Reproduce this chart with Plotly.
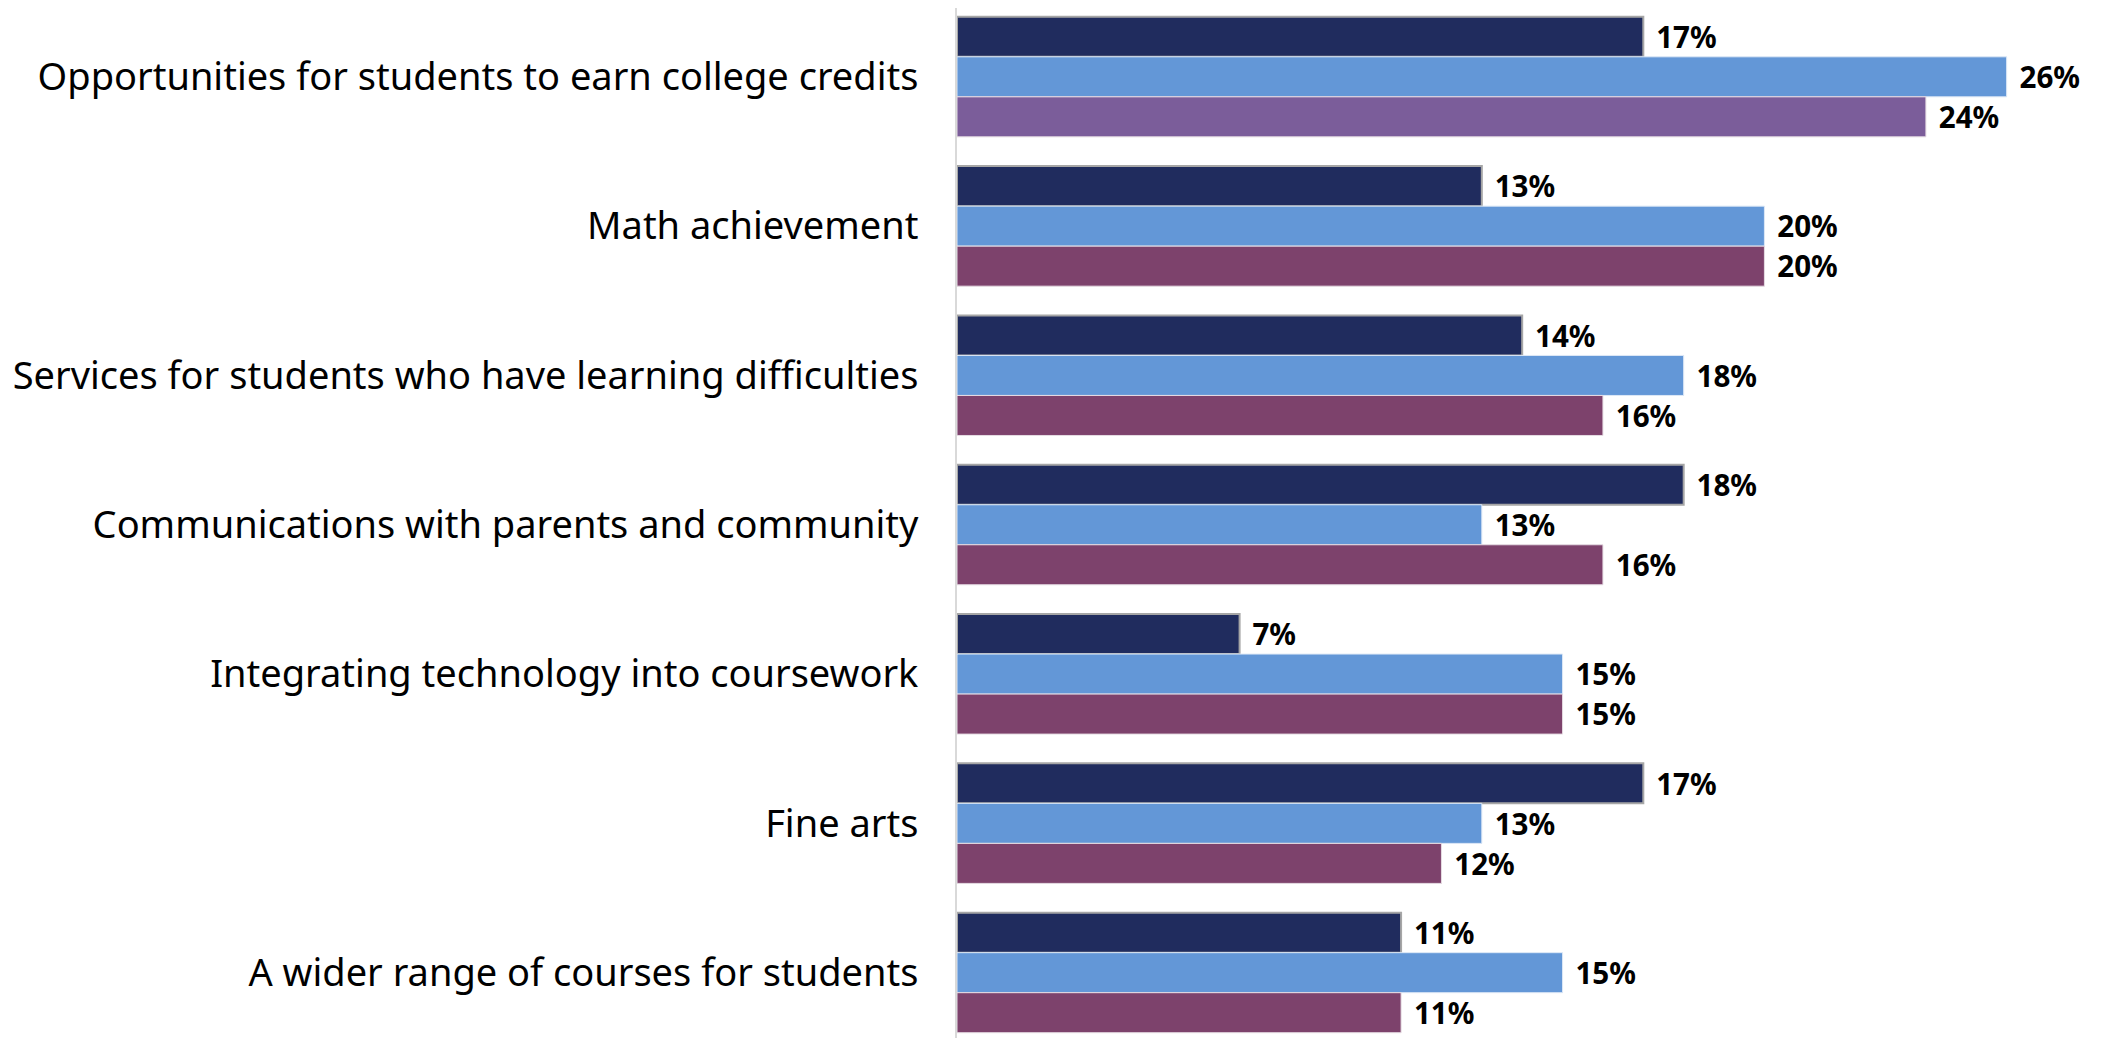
import plotly.graph_objects as go

categories = [
    "Opportunities for students to earn college credits",
    "Math achievement",
    "Services for students who have learning difficulties",
    "Communications with parents and community",
    "Integrating technology into coursework",
    "Fine arts",
    "A wider range of courses for students",
]
series_a = [17, 13, 14, 18, 7, 17, 11]
series_b = [26, 20, 18, 13, 15, 13, 15]
series_c = [24, 20, 16, 16, 15, 12, 11]

navy = "#202C5E"
blue = "#6397D7"
purple_first = "#7B5D9A"
purple = "#7D426C"

FONT = "'Noto Sans', 'Open Sans', sans-serif"
label_font = dict(family=FONT, size=34, color="black", weight="bold")
tmpl = "\u2009\u2009<b>%{x}%</b>"

fig = go.Figure()
fig.add_trace(go.Bar(
    y=categories, x=series_a, orientation="h", name="A",
    marker=dict(color=navy, line=dict(color="#A6A6A6", width=2)),
    texttemplate=tmpl, textposition="outside", textfont=label_font,
    cliponaxis=False,
))
fig.add_trace(go.Bar(
    y=categories, x=series_b, orientation="h", name="B",
    marker=dict(color=blue, line=dict(color="#DDE8F6", width=1)),
    texttemplate=tmpl, textposition="outside", textfont=label_font,
    cliponaxis=False,
))
fig.add_trace(go.Bar(
    y=categories, x=series_c, orientation="h", name="C",
    marker=dict(color=[purple_first] + [purple] * (len(categories) - 1),
                line=dict(color="#E6DCE3", width=1)),
    texttemplate=tmpl, textposition="outside", textfont=label_font,
    cliponaxis=False,
))

fig.update_layout(
    width=2105, height=1038,
    barmode="group", bargap=0.196, bargroupgap=0,
    plot_bgcolor="white", paper_bgcolor="white",
    showlegend=False,
    margin=dict(l=949, r=68, t=0, b=0),
    uniformtext=dict(mode=False),
)
fig.update_xaxes(range=[0, 26.95], visible=False, showgrid=False, zeroline=False)
fig.update_yaxes(
    range=[6.491, -0.461], showgrid=False, zeroline=False,
    showline=True, linecolor="#D9D9D9", linewidth=2,
    ticks="", ticklabelstandoff=29,
    tickfont=dict(family=FONT, size=38, color="black"),
)

fig.write_html("out.html")
